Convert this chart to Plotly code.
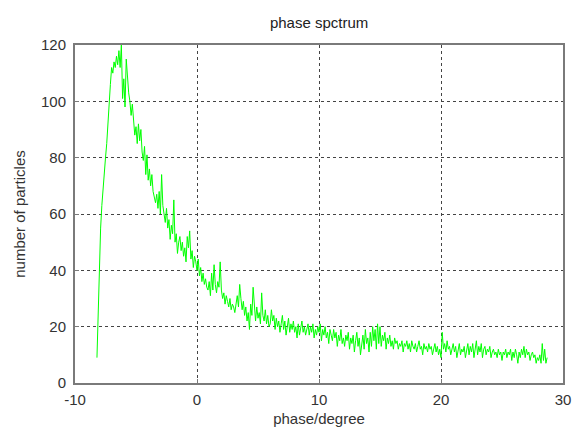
import numpy as np
import plotly.graph_objects as go

# phase grid (degrees), 0.1 degree bins from -8.2 to 28.7
phase_start = -8.2
phase_step = 0.1

# number of particles per bin (one row ≈ one degree)
counts = [
    9, 25, 42, 55, 63, 70, 76, 80, 85, 93,            # -8.2 .. -7.3
    100, 106, 112, 110, 114, 112, 116, 113, 118, 112,  # -7.2 .. -6.3
    120, 101, 108, 98, 115, 108, 103, 100, 95, 99,     # -6.2 .. -5.3
    93, 88, 91, 85, 92, 86, 90, 82, 79, 84,            # -5.2 .. -4.3
    74, 81, 72, 76, 70, 74, 68, 66, 64, 67,            # -4.2 .. -3.3
    62, 68, 60, 74, 63, 60, 57, 62, 55, 58,            # -3.2 .. -2.3
    51, 56, 53, 65, 50, 53, 46, 50, 52, 47,            # -2.2 .. -1.3
    50, 45, 48, 43, 52, 48, 54, 44, 47, 41,            # -1.2 .. -0.3
    45, 43, 40, 44, 38, 41, 36, 39, 35, 37,            # -0.2 .. 0.7
    34, 33, 36, 31, 39, 33, 42, 35, 32, 36,            # 0.8 .. 1.7
    34, 43, 33, 30, 32, 28, 31, 29, 27, 30,            # 1.8 .. 2.7
    26, 28, 27, 25, 29, 31, 27, 35, 30, 26,            # 2.8 .. 3.7
    29, 24, 27, 22, 25, 19, 28, 24, 34, 26,            # 3.8 .. 4.7
    22, 27, 23, 25, 21, 32, 24, 22, 26, 21,            # 4.8 .. 5.7
    24, 20, 21, 26, 22, 24, 19, 23, 20, 22,            # 5.8 .. 6.7
    18, 21, 24, 19, 22, 17, 20, 23, 18, 21,            # 6.8 .. 7.7
    19, 22, 18, 20, 16, 21, 17, 19, 22, 18,            # 7.8 .. 8.7
    20, 17, 19, 21, 17, 20, 18, 21, 16, 19,            # 8.8 .. 9.7
    17, 20, 18, 21, 15, 19, 17, 20, 16, 18,            # 9.8 .. 10.7
    14, 19, 17, 15, 19, 16, 18, 13, 17, 15,            # 10.8 .. 11.7
    19, 14, 16, 13, 17, 15, 18, 12, 16, 14,            # 11.8 .. 12.7
    17, 11, 15, 18, 13, 16, 10, 15, 17, 12,            # 12.8 .. 13.7
    19, 14, 16, 11, 18, 13, 20, 15, 19, 12,            # 13.8 .. 14.7
    21, 14, 20, 13, 17, 15, 18, 12, 16, 14,            # 14.8 .. 15.7
    17, 13, 15, 12, 16, 14, 15, 12, 14, 13,            # 15.8 .. 16.7
    15, 11, 14, 13, 15, 12, 14, 11, 15, 13,            # 16.8 .. 17.7
    12, 14, 11, 13, 15, 12, 13, 10, 14, 12,            # 17.8 .. 18.7
    13, 11, 14, 12, 13, 10, 12, 14, 11, 13,            # 18.8 .. 19.7
    10, 12, 9, 18, 12, 14, 11, 15, 12, 13,             # 19.8 .. 20.7
    10, 12, 14, 11, 13, 9, 12, 14, 10, 12,             # 20.8 .. 21.7
    11, 13, 9, 12, 14, 10, 13, 11, 14, 9,              # 21.8 .. 22.7
    12, 15, 10, 13, 11, 14, 9, 12, 13, 10,             # 22.8 .. 23.7
    12, 11, 13, 9, 11, 12, 10, 11, 9, 12,              # 23.8 .. 24.7
    10, 11, 8, 11, 10, 12, 9, 11, 10, 12,              # 24.8 .. 25.7
    8, 11, 9, 12, 10, 7, 11, 9, 12, 10,                # 25.8 .. 26.7
    13, 9, 12, 10, 11, 8, 10, 11, 9, 10,               # 26.8 .. 27.7
    7, 9, 8, 10, 7, 14, 8, 12, 7, 9,                   # 27.8 .. 28.7
]

phase = np.round(phase_start + phase_step * np.arange(len(counts)), 2)

x_ticks = [-10, 0, 10, 20, 30]
y_ticks = [0, 20, 40, 60, 80, 100, 120]

font = "Liberation Sans, Arial, sans-serif"
axis_col = "#7a7a7a"

fig = go.Figure()
fig.add_trace(go.Scatter(
    x=phase, y=counts, mode="lines",
    line=dict(color="#00ff00", width=1),
    showlegend=False,
))

fig.update_layout(
    width=575, height=431,
    margin=dict(l=75, r=12, t=45, b=48),
    paper_bgcolor="white", plot_bgcolor="white",
    title=dict(text="phase spctrum", x=0.555, xanchor="center",
               y=1 - 23 / 431, yanchor="middle",
               font=dict(family=font, size=15, color="#222")),
    font=dict(family=font, size=15, color="#333"),
)
fig.update_xaxes(
    range=[-10, 30], tickvals=x_ticks, ticktext=[str(v) for v in x_ticks],
    showgrid=True, gridcolor="#444", griddash="dot", gridwidth=1,
    showline=True, linecolor=axis_col, linewidth=2, mirror=True,
    ticks="inside", ticklen=4, tickcolor=axis_col,
    ticklabelstandoff=2,
    zeroline=False, automargin=False,
    title=dict(text="phase/degree", standoff=6, font=dict(family=font, size=15, color="#333")),
)
fig.update_yaxes(
    range=[0, 120], tickvals=y_ticks, ticktext=[str(v) for v in y_ticks],
    showgrid=True, gridcolor="#444", griddash="dot", gridwidth=1,
    showline=True, linecolor=axis_col, linewidth=2, mirror=True,
    ticks="inside", ticklen=4, tickcolor=axis_col,
    ticklabelstandoff=4,
    zeroline=False, automargin=False,
    title=dict(text="number of particles", standoff=12, font=dict(family=font, size=15, color="#333")),
)

fig.write_html("out.html")
